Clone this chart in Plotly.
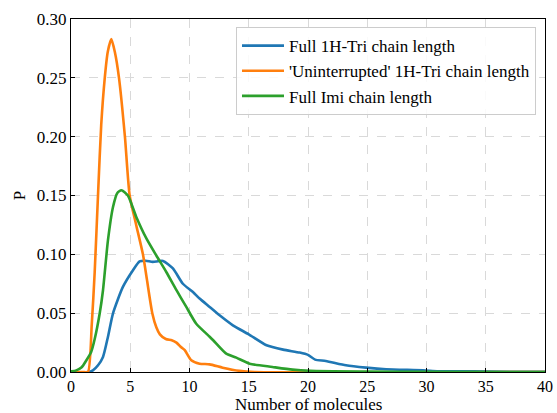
import plotly.graph_objects as go

# Full 1H-Tri chain length
blue_x = [0, 1.43, 1.85, 2.28, 2.7, 3.12, 3.54, 4.38, 5.23, 5.79, 6.3, 6.9, 7.76, 8.6, 9.44, 10.29,
          10.85, 11.7, 12.54, 13.66, 15.0, 16.5, 17.9, 19.3, 20.0, 20.6, 21.5, 23.2, 24.9, 26.6,
          29.7, 31.0, 34.0, 37.0, 40.0]
blue_y = [0, 0, 0.0014, 0.0057, 0.0128, 0.030, 0.0497, 0.0723, 0.0865, 0.094, 0.0945, 0.0936, 0.0944,
          0.088, 0.075, 0.068, 0.0624, 0.0553, 0.0482, 0.0397, 0.032, 0.0227, 0.019, 0.0165, 0.0145,
          0.0105, 0.0094, 0.0057, 0.0037, 0.0023, 0.0014, 0.0006, 0.0005, 0.0002, 0.0001]

# 'Uninterrupted' 1H-Tri chain length
orange_x = [0, 1.0, 1.43, 1.75, 2.0, 2.3, 2.55, 2.85, 3.1, 3.4, 3.7, 4.05, 4.55, 4.95, 5.5, 6.07,
            6.4, 6.86, 7.2, 7.5, 8.0, 8.5, 8.9, 9.3, 9.6, 10.15, 10.85, 11.7, 12.8, 14.2, 15.5, 40.0]
orange_y = [0, 0, 0, 0.04, 0.085, 0.155, 0.21, 0.25, 0.272, 0.283, 0.272, 0.25, 0.2, 0.15, 0.125,
            0.1, 0.079, 0.05, 0.038, 0.032, 0.028, 0.027, 0.025, 0.021, 0.0185, 0.01, 0.0071, 0.0065,
            0.0037, 0.001, 0, 0]

# Full Imi chain length
green_x = [0, 0.45, 0.9, 1.3, 1.7, 2.0, 2.42, 2.7, 3.12, 3.54, 3.9, 4.25, 4.8, 5.5, 6.36, 7.2, 8.04,
           8.9, 9.73, 10.57, 11.7, 12.0, 13.1, 13.95, 15.07, 17.0, 18.7, 20.2, 25.0, 30.0, 40.0]
green_y = [0.0005, 0.0014, 0.004, 0.01, 0.017, 0.028, 0.0497, 0.0695, 0.112, 0.140, 0.152, 0.1545, 0.150,
           0.132, 0.1135, 0.099, 0.085, 0.0695, 0.0553, 0.041, 0.030, 0.027, 0.0156, 0.0122, 0.0071,
           0.0043, 0.002, 0.001, 0.0004, 0.0001, 0]

names = ["Full 1H-Tri chain length", "'Uninterrupted' 1H-Tri chain length", "Full Imi chain length"]
colors = ["#1f77b4", "#ff7f0e", "#2ca02c"]
x_title = "Number of molecules"
y_title = "P"

FONT = "Liberation Serif, Times New Roman, serif"
FS = 17

fig = go.Figure()
for xs, ys, nm, c in [(blue_x, blue_y, names[0], colors[0]),
                      (orange_x, orange_y, names[1], colors[1]),
                      (green_x, green_y, names[2], colors[2])]:
    fig.add_trace(go.Scatter(x=xs, y=ys, mode="lines", name=nm,
                             line=dict(color=c, width=2.6, shape="spline", smoothing=0.6)))

axis_common = dict(
    showline=True, linecolor="black", linewidth=1.2, mirror=True,
    ticks="inside", ticklen=4, tickcolor="black", tickwidth=1,
    showgrid=True, gridcolor="#d9d9d9", griddash="dash", gridwidth=1,
    zeroline=False, automargin=False,
)

fig.update_xaxes(range=[0, 40], dtick=5, tick0=0,
                 tickfont=dict(family=FONT, size=16, color="black"), **axis_common)
fig.update_yaxes(range=[0, 0.30], dtick=0.05, tick0=0, tickformat=".2f",
                 tickfont=dict(family=FONT, size=FS, color="black"),
                 title=dict(text=y_title, font=dict(family=FONT, size=FS, color="black"), standoff=6),
                 **axis_common)

fig.add_annotation(text=x_title, xref="paper", yref="paper", x=0.5, y=-0.062,
                   xanchor="center", yanchor="top", showarrow=False, borderpad=0,
                   font=dict(family=FONT, size=FS, color="black"))

fig.update_layout(
    width=557, height=413,
    margin=dict(l=71, r=12, t=19, b=41),
    paper_bgcolor="white", plot_bgcolor="white",
    font=dict(family=FONT, size=FS, color="black"),
    legend=dict(x=0.981, y=0.977, xanchor="right", yanchor="top",
                bgcolor="rgba(255,255,255,0.85)", bordercolor="#cccccc", borderwidth=1,
                font=dict(family=FONT, size=FS, color="black"),
                itemwidth=42, tracegroupgap=0),
    showlegend=True,
)

fig.write_html("out.html", config={"displayModeBar": False},
               post_script="document.body.style.margin='0';document.body.style.padding='0';")
